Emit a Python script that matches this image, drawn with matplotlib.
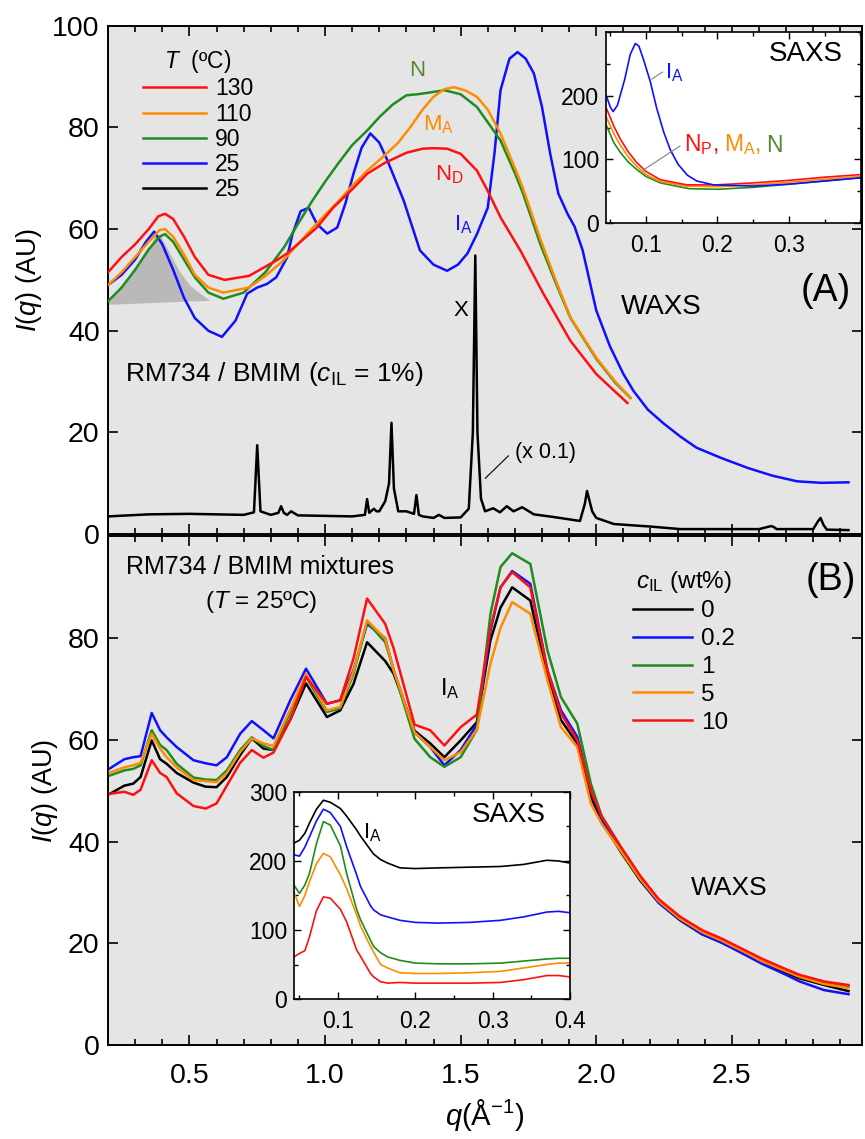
import numpy as np
import matplotlib
matplotlib.use("Agg")
import matplotlib.pyplot as plt
from matplotlib.lines import Line2D
from matplotlib.ticker import MultipleLocator

plt.rcParams['font.family'] = ['Liberation Sans', 'DejaVu Sans']
plt.rcParams['mathtext.fontset'] = 'custom'
plt.rcParams['mathtext.rm'] = 'Liberation Sans'
plt.rcParams['mathtext.it'] = 'Liberation Sans:italic'

RED, ORANGE, GREEN, BLUE, BLACK = '#ff1010', '#ff8c00', '#1e8c1e', '#1010ff', '#000000'
OLIVE = '#4f8a2f'

# ---------------- panel A : WAXS vs temperature (c_IL = 1%) ----------------
qA_130 = [0.2, 0.25, 0.3, 0.35, 0.385, 0.41, 0.44, 0.48, 0.52, 0.57, 0.63, 0.72, 0.82, 0.86,
          0.97, 1.03, 1.1, 1.156, 1.22, 1.3, 1.36, 1.4, 1.45, 1.5, 1.56, 1.6, 1.647, 1.72,
          1.805, 1.905, 2.0, 2.06, 2.115]
IA_130 = [51.5, 54.5, 57.0, 60.0, 62.5, 63.0, 62.0, 58.5, 54.5, 51.0, 50.0, 50.8, 53.8, 55.2,
          60.3, 64.2, 67.8, 70.9, 73.0, 75.0, 75.8, 75.9, 75.8, 74.8, 71.5, 67.5, 62.3, 55.8,
          47.3, 38.0, 31.5, 28.5, 25.8]
qA_110 = [0.2, 0.25, 0.3, 0.35, 0.39, 0.41, 0.44, 0.48, 0.52, 0.57, 0.625, 0.72, 0.78, 0.84,
          0.9, 0.95, 1.0, 1.05, 1.1, 1.156, 1.22, 1.27, 1.314, 1.36, 1.4, 1.44, 1.475, 1.52,
          1.56, 1.6, 1.647, 1.7, 1.73, 1.794, 1.85, 1.905, 2.0, 2.07, 2.126]
IA_110 = [49.0, 51.5, 54.5, 57.5, 59.8, 60.0, 58.5, 55.0, 51.0, 48.5, 47.5, 48.5, 50.8, 53.5,
          57.0, 60.0, 62.8, 65.5, 68.5, 71.5, 74.5, 77.0, 80.0, 83.5, 86.0, 87.5, 87.9, 87.2,
          86.0, 83.5, 78.8, 72.0, 68.0, 58.0, 50.0, 42.6, 34.7, 30.0, 26.8]
qA_90 = [0.2, 0.25, 0.3, 0.35, 0.39, 0.41, 0.44, 0.48, 0.52, 0.57, 0.625, 0.7, 0.78, 0.85,
         0.9, 0.95, 1.0, 1.05, 1.1, 1.156, 1.2, 1.25, 1.3, 1.34, 1.38, 1.44, 1.5, 1.56, 1.6,
         1.647, 1.7, 1.73, 1.794, 1.85, 1.905, 2.0, 2.07, 2.126]
IA_90 = [45.8, 48.5, 52.0, 56.0, 58.5, 59.0, 57.5, 54.0, 50.5, 47.5, 46.3, 47.5, 51.5, 56.5,
         61.0, 65.3, 69.3, 73.0, 76.5, 79.4, 82.0, 84.5, 86.3, 86.5, 86.8, 87.3, 86.5, 84.0, 81.0,
         77.4, 71.0, 67.0, 57.0, 49.5, 42.5, 34.5, 29.8, 26.8]
qA_25 = [0.2, 0.25, 0.3, 0.34, 0.37, 0.4, 0.44, 0.48, 0.52, 0.57, 0.62, 0.67, 0.713, 0.75,
         0.786, 0.82, 0.86, 0.88, 0.91, 0.94, 0.97, 1.008, 1.045, 1.075, 1.105, 1.135, 1.167,
         1.2, 1.23, 1.29, 1.35, 1.4, 1.45, 1.49, 1.525, 1.56, 1.6, 1.625, 1.647, 1.68, 1.71,
         1.74, 1.77, 1.8, 1.83, 1.86, 1.894, 1.92, 1.95, 2.0, 2.05, 2.1, 2.137, 2.19, 2.25,
         2.31, 2.37, 2.46, 2.56, 2.65, 2.74, 2.83, 2.93]
IA_25 = [49.0, 51.0, 54.0, 57.5, 59.5, 57.0, 52.0, 46.5, 42.5, 40.0, 38.8, 42.0, 47.3, 48.5,
         49.2, 50.5, 54.4, 59.0, 63.5, 64.2, 61.0, 59.1, 60.3, 65.0, 70.9, 76.0, 78.8,
         77.0, 73.5, 65.6, 55.8, 53.0, 51.8, 53.0, 55.2, 59.0, 64.2, 75.0, 87.3, 93.5, 94.8,
         93.5, 90.6, 84.0, 74.9, 67.0, 63.0, 60.5, 55.8, 44.0, 37.0, 31.5, 28.2, 24.5, 21.7,
         19.2, 17.0, 15.0, 13.0, 11.5, 10.4, 10.1, 10.2]
# crystalline sample at 25 C (scaled x 0.1)
qA_cr = [0.2, 0.35, 0.5, 0.7, 0.738, 0.75, 0.762, 0.8, 0.828, 0.838, 0.848, 0.86, 0.875,
         0.9, 1.0, 1.1, 1.147, 1.155, 1.163, 1.18, 1.19, 1.2, 1.222, 1.236, 1.245, 1.254,
         1.27, 1.3, 1.328, 1.337, 1.346, 1.36, 1.4, 1.42, 1.44, 1.5, 1.53, 1.545, 1.554,
         1.562, 1.575, 1.59, 1.62, 1.645, 1.67, 1.695, 1.727, 1.77, 1.84, 1.94, 1.958,
         1.966, 1.985, 2.0, 2.065, 2.2, 2.31, 2.6, 2.645, 2.655, 2.665, 2.8, 2.817, 2.827,
         2.838, 2.85, 2.93]
IA_cr = [3.5, 3.9, 4.0, 3.8, 4.3, 17.5, 4.5, 3.8, 4.2, 5.5, 4.2, 3.8, 4.5,
         3.7, 3.6, 3.5, 3.8, 6.9, 4.2, 5.0, 4.5, 4.5, 6.5, 10.0, 21.9, 9.0,
         4.5, 4.5, 4.0, 7.7, 3.8, 3.5, 3.2, 3.8, 3.2, 3.3, 5.0, 20.0, 54.8,
         20.0, 7.0, 4.5, 5.1, 4.3, 5.5, 4.5, 5.3, 3.9, 3.4, 2.6, 6.0,
         8.5, 4.5, 3.2, 2.0, 1.5, 1.0, 1.0, 1.6, 1.4, 1.0, 1.0, 2.5, 3.2,
         1.8, 0.9, 0.8]
# shaded first diffuse peak
shade_q = [0.2, 0.25, 0.3, 0.35, 0.37, 0.39, 0.42, 0.46, 0.5, 0.54, 0.576]
shade_I = [45.8, 48.5, 52.0, 56.0, 58.5, 59.0, 56.0, 52.0, 49.0, 47.3, 46.0]
shade_base_q = [0.2, 0.576]
shade_base_I = [45.2, 46.0]

# inset A : SAXS
sA_q_25 = [0.045, 0.05, 0.054, 0.06, 0.07, 0.078, 0.085, 0.09, 0.097, 0.106, 0.115, 0.125,
           0.134, 0.145, 0.158, 0.171, 0.194, 0.25, 0.3, 0.35, 0.4]
sA_I_25 = [198, 182, 175, 185, 225, 265, 282, 278, 255, 222, 180, 142, 115, 92, 75, 66, 60,
           58, 61, 66, 71]
sA_q_130 = [0.045, 0.055, 0.064, 0.075, 0.087, 0.1, 0.12, 0.157, 0.2, 0.25, 0.3, 0.35, 0.4]
sA_I_130 = [179, 152, 132, 112, 95, 81, 68, 60, 60, 63, 67, 72, 76]
sA_q_110 = [0.045, 0.055, 0.064, 0.075, 0.087, 0.1, 0.12, 0.157, 0.2, 0.25, 0.3, 0.35, 0.4]
sA_I_110 = [165, 140, 122, 104, 89, 76, 65, 58, 57, 60, 64, 69, 73]
sA_q_90 = [0.045, 0.055, 0.064, 0.075, 0.087, 0.1, 0.12, 0.16, 0.2, 0.25, 0.3, 0.35, 0.4]
sA_I_90 = [152, 126, 111, 96, 84, 73, 63, 54, 53, 56, 61, 66, 71]

# ---------------- panel B : WAXS vs c_IL (T = 25 C) ----------------
qB = [0.207, 0.26, 0.293, 0.32, 0.361, 0.392, 0.416, 0.453, 0.515, 0.56, 0.6, 0.638, 0.687,
      0.73, 0.773, 0.81, 0.872, 0.93, 1.007, 1.056, 1.105, 1.155, 1.222, 1.253, 1.33,
      1.388, 1.44, 1.5, 1.56, 1.61, 1.647, 1.69, 1.757, 1.82, 1.87, 1.93, 1.98, 2.02, 2.09,
      2.163, 2.23, 2.31, 2.39, 2.46, 2.55, 2.61, 2.7, 2.75, 2.84, 2.93]
IB_0 = [49.4, 51.0, 51.4, 52.7, 59.9, 56.2, 55.3, 53.5, 51.6, 50.8, 50.7, 52.7, 57.0,
        60.3, 58.3, 58.0, 64.0, 71.1, 64.5, 65.8, 71.0, 79.2, 75.5, 73.0, 61.8,
        59.3, 56.6, 59.9, 63.5, 79.6, 86.0, 90.0, 87.4, 72.4, 63.9, 59.3, 48.8, 44.0, 38.0,
        32.3, 28.0, 24.5, 21.8, 20.2, 17.9, 16.2, 14.2, 13.1, 11.8, 10.6]
IB_02 = [54.4, 56.2, 56.6, 56.8, 65.3, 61.9, 60.5, 58.6, 56.0, 55.4, 55.0, 56.6, 61.2,
         63.7, 61.9, 60.3, 67.8, 74.0, 67.1, 67.8, 73.7, 82.8, 80.0, 73.7, 61.5,
         58.6, 55.0, 58.0, 63.0, 81.5, 90.0, 93.2, 90.7, 73.7, 65.8, 60.6, 50.1, 44.5, 38.6,
         32.6, 28.0, 24.6, 21.8, 20.2, 17.7, 16.0, 13.8, 12.5, 10.8, 10.0]
IB_1 = [53.0, 54.0, 54.3, 55.0, 61.9, 59.0, 58.0, 55.3, 52.6, 52.2, 52.1, 54.0, 58.0,
        60.5, 58.8, 58.0, 65.5, 72.4, 65.5, 66.2, 73.0, 83.2, 79.2, 73.7, 60.2,
        56.6, 54.7, 56.6, 62.0, 84.8, 94.0, 96.7, 94.6, 77.6, 68.4, 63.2, 51.4, 45.0, 39.0,
        33.0, 28.5, 25.0, 22.3, 20.8, 18.3, 16.6, 14.6, 13.5, 12.3, 11.5]
IB_5 = [53.6, 54.6, 55.0, 55.5, 61.2, 58.3, 56.6, 54.6, 52.1, 51.9, 51.7, 53.5, 57.6,
        60.3, 59.3, 58.8, 66.0, 73.0, 65.8, 66.5, 73.5, 83.5, 79.9, 73.7, 61.5,
        58.6, 56.0, 57.6, 62.0, 75.0, 82.0, 87.1, 84.8, 71.7, 62.5, 58.6, 47.5, 43.5, 38.2,
        32.6, 28.3, 24.8, 22.2, 20.6, 18.2, 16.5, 14.5, 13.4, 12.0, 11.2]
IB_10 = [49.4, 49.8, 49.2, 50.2, 56.0, 53.5, 52.7, 49.5, 47.0, 46.5, 47.5, 51.0, 55.5,
         58.0, 56.5, 57.5, 64.0, 72.4, 67.1, 67.8, 76.0, 87.8, 82.8, 78.0, 63.0,
         61.9, 58.9, 62.5, 65.0, 82.0, 90.0, 93.0, 90.0, 73.7, 65.2, 59.9, 50.1, 45.0, 39.0,
         33.2, 28.7, 25.2, 22.6, 21.0, 18.6, 17.0, 14.9, 13.8, 12.5, 11.8]

# inset B : SAXS
sB_q = [0.043, 0.05, 0.057, 0.063, 0.072, 0.081, 0.09, 0.103, 0.111, 0.124, 0.129, 0.142,
        0.146, 0.155, 0.164, 0.18, 0.2, 0.23, 0.27, 0.31, 0.34, 0.37, 0.385, 0.4]
sB_I_0 = [226, 230, 240, 255, 275, 288, 285, 276, 265, 245, 236, 216, 210, 202, 197, 190,
          189, 190, 191, 192, 195, 201, 200, 197]
sB_I_02 = [209, 207, 220, 235, 258, 275, 270, 250, 221, 180, 163, 135, 129, 122, 119, 114,
           111, 110, 111, 114, 119, 126, 127, 125]
sB_I_1 = [165, 153, 165, 182, 225, 257, 252, 222, 182, 130, 115, 85, 76, 67, 61, 56,
          52, 51, 51, 52, 55, 58, 59, 59]
sB_I_5 = [155, 134, 150, 170, 196, 211, 206, 180, 160, 122, 106, 76, 68, 50, 45, 38,
          37, 37, 38, 40, 45, 50, 52, 52]
sB_I_10 = [61, 66, 70, 90, 128, 148, 146, 130, 112, 71, 62, 37, 32, 25, 23, 24,
           23, 23, 23, 24, 28, 34, 34, 32]

labels_T = ['130', '110', '90', '25', '25']
labels_c = ['0', '0.2', '1', '5', '10']

# ---------------- figure ----------------
fig = plt.figure(figsize=(8.65, 11.39), dpi=100)
axA = fig.add_axes([0.1249, 0.5310, 0.8717, 0.4465])
axB = fig.add_axes([0.1249, 0.0825, 0.8717, 0.4465], sharex=axA)

for ax in (axA, axB):
    ax.set_facecolor('#e5e5e5')
    ax.set_xlim(0.2, 2.98)
    ax.set_ylim(0, 100)
    ax.xaxis.set_major_locator(MultipleLocator(0.5))
    ax.xaxis.set_minor_locator(MultipleLocator(0.1))
    ax.yaxis.set_major_locator(MultipleLocator(20))
    ax.tick_params(which='both', direction='in', top=True, right=True, width=1.2,
                   labelsize=20.5, pad=6)
    ax.tick_params(which='major', length=7)
    ax.tick_params(which='minor', length=4)
    for s in ax.spines.values():
        s.set_linewidth(1.4)
    ax.set_ylabel(r'$\mathit{I}$($\mathit{q}$) (AU)', fontsize=19.5, labelpad=6)

axA.tick_params(labelbottom=False)
axA.set_yticks([0, 20, 40, 60, 80, 100])
axB.set_yticks([0, 20, 40, 60, 80])
axB.tick_params(axis='x', pad=13)
axB.set_xlabel(r'$\mathit{q}$(Å$^{\mathregular{-1}}$)', fontsize=21, labelpad=6)

# panel A curves
base = np.interp(shade_q, shade_base_q, shade_base_I)
axA.fill_between(shade_q, base, shade_I, color='#b9b9b9', lw=0, zorder=1)
lw = 1.8
axA.plot(qA_cr, IA_cr, color=BLACK, lw=lw, zorder=3)
axA.plot(qA_25, IA_25, color=BLUE, lw=lw, zorder=3)
axA.plot(qA_90, IA_90, color=GREEN, lw=lw, zorder=3)
axA.plot(qA_110, IA_110, color=ORANGE, lw=lw, zorder=3)
axA.plot(qA_130, IA_130, color=RED, lw=lw, zorder=3)

hA = [Line2D([], [], color=c, lw=lw) for c in (RED, ORANGE, GREEN, BLUE, BLACK)]
axA.legend(hA, labels_T, title=r'$\mathit{T}$  (ºC)', loc='upper left',
           bbox_to_anchor=(0.046, 0.956), frameon=False, fontsize=16.5,
           title_fontsize=16.5, handlelength=2.75, handletextpad=0.4,
           labelspacing=0.1, borderpad=0, borderaxespad=0)

axA.text(1.34, 91.2, 'N', color=OLIVE, fontsize=16, ha='center', va='center')
axA.text(1.362, 79.4, r'M$_\mathregular{A}$', color=ORANGE, fontsize=16)
axA.text(1.407, 69.6, r'N$_\mathregular{D}$', color=RED, fontsize=16)
axA.text(1.477, 59.7, r'I$_\mathregular{A}$', color=BLUE, fontsize=16)
axA.text(1.473, 43.0, 'X', color=BLACK, fontsize=16)
axA.text(1.702, 15.0, '(x 0.1)', fontsize=15.5)
axA.plot([1.591, 1.676], [11.0, 15.4], color='k', lw=0.8)
axA.text(2.089, 43.2, 'WAXS', fontsize=20)
axA.text(2.846, 47.9, '(A)', fontsize=27, ha='center', va='center')
axA.text(0.263, 30.1, r'RM734 / BMIM ($\mathit{c}_\mathregular{IL}$ = 1%)', fontsize=19)

# panel B curves
for I, c in zip((IB_0, IB_02, IB_1, IB_5, IB_10), (BLACK, BLUE, GREEN, ORANGE, RED)):
    axB.plot(qB, I, color=c, lw=lw, zorder=3)

hB = [Line2D([], [], color=c, lw=lw) for c in (BLACK, BLUE, GREEN, ORANGE, RED)]
axB.legend(hB, labels_c, title=r'$\mathit{c}_\mathregular{IL}$ (wt%)', loc='upper left',
           bbox_to_anchor=(0.696, 0.937), frameon=False, fontsize=17.5,
           title_fontsize=17.5, handlelength=2.45, handletextpad=0.35,
           labelspacing=0.24, borderpad=0, borderaxespad=0)

axB.text(0.266, 92.7, 'RM734 / BMIM mixtures', fontsize=18)
axB.text(0.558, 86.0, r'($\mathit{T}$ = 25ºC)', fontsize=17.5)
axB.text(1.425, 68.8, r'I$_\mathregular{A}$', fontsize=17)
axB.text(2.864, 91.4, '(B)', fontsize=27, ha='center', va='center')
axB.text(2.348, 29.5, 'WAXS', fontsize=19)

# insets
def style_inset(ax, xlim, xt, yt):
    ax.set_facecolor('white')
    ax.set_xlim(*xlim)
    ax.set_ylim(0, 300)
    ax.set_xticks(xt)
    ax.set_yticks(yt)
    ax.xaxis.set_minor_locator(MultipleLocator(0.05))
    ax.yaxis.set_minor_locator(MultipleLocator(50))
    ax.tick_params(which='both', direction='in', top=True, right=True, width=1.0,
                   labelsize=16.5, pad=5)
    ax.tick_params(axis='x', pad=8)
    ax.tick_params(which='major', length=5)
    ax.tick_params(which='minor', length=3)
    for s in ax.spines.values():
        s.set_linewidth(1.2)

insA = fig.add_axes([0.7006, 0.8042, 0.2948, 0.1677])
style_inset(insA, (0.044, 0.401), [0.1, 0.2, 0.3], [0, 100, 200])
slw = 1.2
insA.plot(sA_q_90, sA_I_90, color=GREEN, lw=slw)
insA.plot(sA_q_110, sA_I_110, color=ORANGE, lw=slw)
insA.plot(sA_q_130, sA_I_130, color=RED, lw=slw)
insA.plot(sA_q_25, sA_I_25, color=BLUE, lw=slw)
insA.text(0.272, 254, 'SAXS', fontsize=20)
insA.text(0.1266, 227, r'I$_\mathregular{A}$', color=BLUE, fontsize=16)
insA.plot([0.108, 0.123], [226, 237], color='gray', lw=0.8)
tx = insA.text(0.153, 113, r'N$_\mathregular{P}$,', color=RED, fontsize=16.5)
tx = insA.annotate(r'M$_\mathregular{A}$,', xycoords=tx, xy=(1, 0), xytext=(4, 0),
                   textcoords='offset points', va='bottom', color=ORANGE, fontsize=16.5)
insA.annotate('N', xycoords=tx, xy=(1, 0), xytext=(4, 0), textcoords='offset points',
              va='bottom', color=OLIVE, fontsize=16.5)
insA.plot([0.096, 0.1476], [83, 121], color='gray', lw=0.8)

insB = fig.add_axes([0.3399, 0.1229, 0.3191, 0.1818])
style_inset(insB, (0.043, 0.4), [0.1, 0.2, 0.3, 0.4], [0, 100, 200, 300])
for I, c in zip((sB_I_0, sB_I_02, sB_I_1, sB_I_5, sB_I_10), (BLACK, BLUE, GREEN, ORANGE, RED)):
    insB.plot(sB_q, I, color=c, lw=slw)
insB.text(0.2725, 257, 'SAXS', fontsize=20)
insB.text(0.132, 232, r'I$_\mathregular{A}$', fontsize=16)

fig.savefig('out.png', dpi=100)
